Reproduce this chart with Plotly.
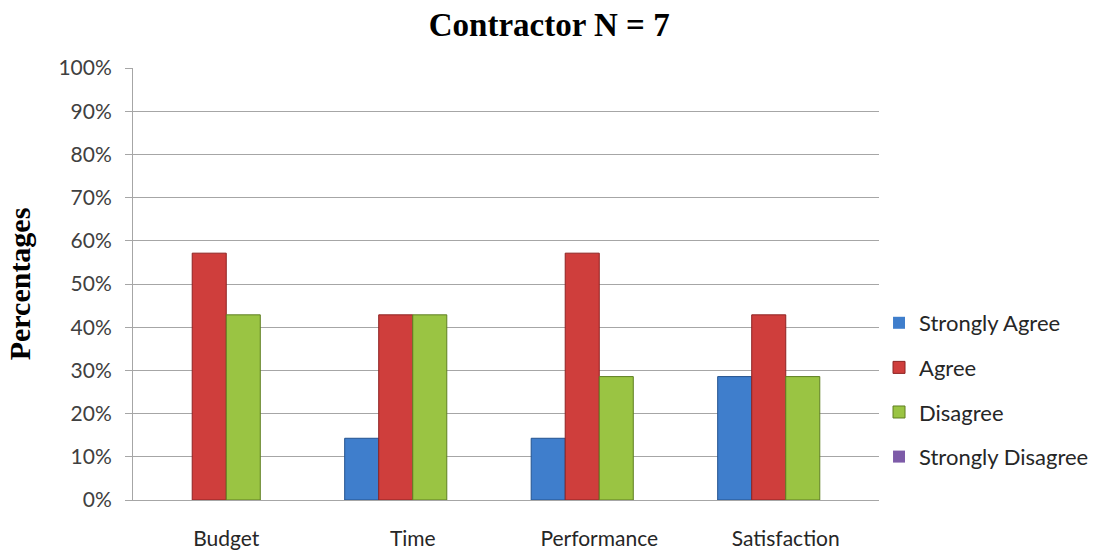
import plotly.graph_objects as go

# Survey responses of contractors (N = 7), shares in percent
categories = ["Budget", "Time", "Performance", "Satisfaction"]
strongly_agree = [0.0, 14.29, 14.29, 28.57]
agree = [57.14, 42.86, 57.14, 42.86]
disagree = [42.86, 42.86, 28.57, 28.57]
strongly_disagree = [0.0, 0.0, 0.0, 0.0]
y_ticks = [0, 10, 20, 30, 40, 50, 60, 70, 80, 90, 100]
y_tick_labels = [f"{v}%" for v in y_ticks]

series = [
    ("Strongly Agree", strongly_agree, "#3F7ECC", "#24538F"),
    ("Agree", agree, "#CF3E3C", "#8E2322"),
    ("Disagree", disagree, "#9AC443", "#5F7F22"),
    ("Strongly Disagree", strongly_disagree, "#7D5BA8", "#4E3870"),
]

fig = go.Figure()
for name, values, fill, edge in series:
    # no outline on empty bars so nothing shows along the baseline
    edge_widths = [1 if v > 0 else 0 for v in values]
    fig.add_trace(go.Bar(
        name=name,
        x=categories,
        y=values,
        legendgroup=name,
        marker=dict(color=fill, line=dict(color=edge, width=edge_widths)),
    ))

fig.update_layout(
    width=1094,
    height=552,
    barmode="group",
    bargap=0.27,
    bargroupgap=0.0,
    plot_bgcolor="white",
    paper_bgcolor="white",
    margin=dict(l=133, r=215, t=68, b=52, autoexpand=False),
    title=dict(
        text="<b>Contractor N = 7</b>",
        x=0.502, xanchor="center",
        y=0.955, yanchor="middle",
        font=dict(family="Liberation Serif", size=33, color="black"),
    ),
    font=dict(family="Lato", size=21, color="#262626"),
    legend=dict(
        xref="container", yref="container",
        x=0.8035, xanchor="left",
        y=0.2935, yanchor="middle",
        traceorder="grouped",
        tracegroupgap=13,
        font=dict(family="Lato", size=22, color="#262626"),
        itemwidth=30,
        bgcolor="rgba(0,0,0,0)",
    ),
    showlegend=True,
)

fig.update_yaxes(
    range=[0, 100],
    tickvals=y_ticks,
    ticktext=y_tick_labels,
    automargin=False,
    showgrid=True,
    gridcolor="#A6A6A6",
    gridwidth=1,
    showline=True,
    linecolor="#A6A6A6",
    linewidth=1,
    ticks="outside",
    ticklen=7,
    tickcolor="#A6A6A6",
    ticklabelstandoff=9,
    zeroline=False,
    tickfont=dict(family="Lato", size=21, color="#404040"),
    title=dict(
        text="<b>Percentages</b>",
        font=dict(family="Liberation Serif", size=30, color="black"),
        standoff=18,
    ),
)

fig.update_xaxes(
    automargin=False,
    showline=True,
    linecolor="#A6A6A6",
    linewidth=1,
    ticks="",
    ticklabelstandoff=20,
    tickfont=dict(family="Lato", size=21, color="#262626"),
)

fig.write_html("out.html")
